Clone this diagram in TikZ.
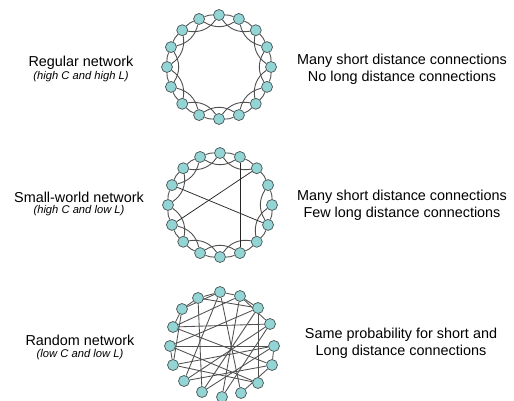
\documentclass[tikz,border=0pt]{standalone}
\usepackage{fontspec}
\setmainfont{Liberation Sans}
\usetikzlibrary{backgrounds}
\definecolor{nodefill}{HTML}{93D5D5}
\definecolor{nodeline}{HTML}{4E5A5A}
\definecolor{edgecol}{HTML}{505050}
\tikzset{
  vtx/.style={circle, draw=nodeline, fill=nodefill, line width=0.75pt, minimum size=11pt, inner sep=0pt},
  ringedge/.style={draw=edgecol, line width=0.9pt},
  longedge/.style={draw=black!85, line width=0.75pt},
  randedge/.style={draw=edgecol, line width=0.85pt},
  mainlbl/.style={font=\fontsize{14.4}{15}\selectfont, align=center},
  sublbl/.style={font=\fontsize{11.2}{12}\selectfont\itshape},
  desclbl/.style={font=\fontsize{14.4}{17}\selectfont, align=center}
}
\begin{document}
\begin{tikzpicture}[x=1pt,y=1pt]
\useasboundingbox (0,0) rectangle (514,-401);

% ---------- Regular network ----------
\foreach \i in {0,...,15} {
  \path (219,-67) ++({90-22.5*\i}:52) node[vtx] (r\i) {};
}
\begin{scope}[on background layer]
\foreach \i in {0,...,15} {
  \pgfmathtruncatemacro\j{mod(\i+1,16)}
  \pgfmathtruncatemacro\k{mod(\i+2,16)}
  \draw[ringedge] (r\i) to[bend left=12] (r\j);
  \draw[ringedge] (r\i) to[bend right=32] (r\k);
}
\end{scope}

% ---------- Small-world network ----------
\foreach \i in {0,...,15} {
  \path (220,-205) ++({90-22.5*\i}:52) node[vtx] (s\i) {};
}
\begin{scope}[on background layer]
\foreach \i in {0,...,15} {
  \pgfmathtruncatemacro\j{mod(\i+1,16)}
  \draw[ringedge] (s\i) to[bend left=12] (s\j);
}
\foreach \i in {0,3,4,6,7,8,9,10,12,13,14,15} {
  \pgfmathtruncatemacro\k{mod(\i+2,16)}
  \draw[ringedge] (s\i) to[bend right=32] (s\k);
}
\draw[longedge] (s1) -- (s7);
\draw[longedge] (s13) -- (s5);
\draw[longedge] (s2) -- (s11);
\end{scope}

% ---------- Random network ----------
\node[vtx] (q1)  at (220,-292) {};
\node[vtx] (q2)  at (240,-296) {};
\node[vtx] (q3)  at (258,-308) {};
\node[vtx] (q4)  at (270,-324) {};
\node[vtx] (q5)  at (274,-346) {};
\node[vtx] (q6)  at (272,-365) {};
\node[vtx] (q7)  at (258,-383) {};
\node[vtx] (q8)  at (241,-393) {};
\node[vtx] (q9)  at (222,-397) {};
\node[vtx] (q10) at (202,-392) {};
\node[vtx] (q11) at (184,-381) {};
\node[vtx] (q12) at (173,-365) {};
\node[vtx] (q13) at (170,-346) {};
\node[vtx] (q14) at (173,-327) {};
\node[vtx] (q15) at (182,-309) {};
\node[vtx] (q16) at (198,-298) {};
\begin{scope}[on background layer]
\foreach \a/\b in {1/2, 2/3, 16/1, 15/16, 15/1, 16/3, 14/4, 13/5, 16/10,
  1/8, 1/11, 2/9, 3/13, 3/7, 4/11, 4/9, 5/10, 5/6, 6/8, 14/6, 12/7,
  13/7, 14/15, 12/13, 2/4, 15/12, 11/6, 10/3, 2/14, 5/12} {
  \draw[randedge] (q\a) -- (q\b);
}
\end{scope}

% ---------- Labels ----------
\node[mainlbl] (lr) at (81,-63) {Regular network};
\node[sublbl]  (sr) at (81,-77) {(high C and high L)};
\node[mainlbl] (ls) at (79,-197) {Small-world network};
\node[sublbl]  (ss) at (79,-211) {(high C and low L)};
\node[mainlbl] (lq) at (80,-340) {Random network};
\node[sublbl]  (sq) at (80,-355) {(low C and low L)};

\node[desclbl] (dr) at (402,-69.5) {Many short distance connections\\No long distance connections};
\node[desclbl] (ds) at (402,-205.5) {Many short distance connections\\Few long distance connections};
\node[desclbl] (dq) at (401,-343.5) {Same probability for short and\\Long distance connections};
\end{tikzpicture}
\end{document}
